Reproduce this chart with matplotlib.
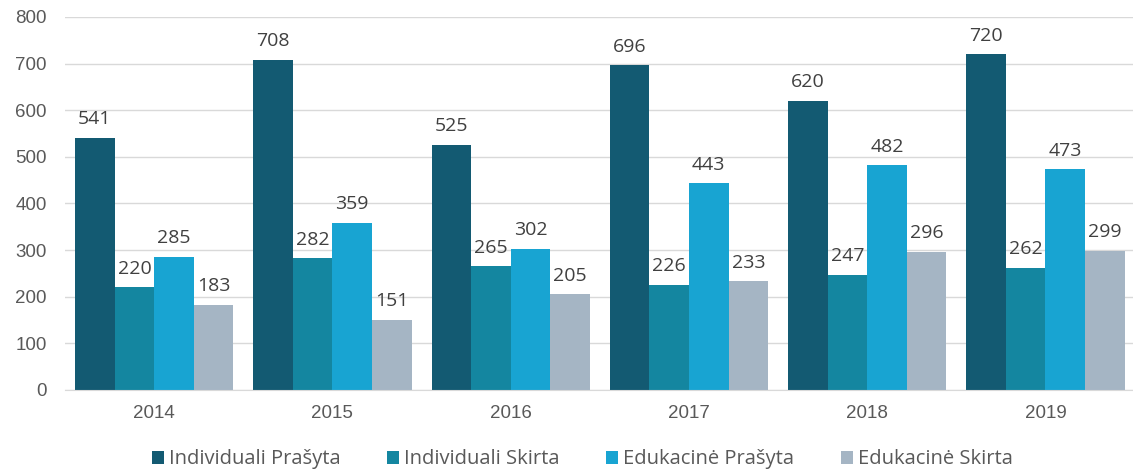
import matplotlib
matplotlib.use("Agg")
import matplotlib.pyplot as plt
import numpy as np

years = ["2014", "2015", "2016", "2017", "2018", "2019"]
series_names = ["Individuali Prašyta", "Individuali Skirta", "Edukacinė Prašyta", "Edukacinė Skirta"]
ind_prasyta = [541, 708, 525, 696, 620, 720]
ind_skirta = [220, 282, 265, 226, 247, 262]
edu_prasyta = [285, 359, 302, 443, 482, 473]
edu_skirta = [183, 151, 205, 233, 296, 299]

COLORS = ["#135A72", "#1486A0", "#18A4D2", "#A5B5C4"]
TEXT = "#595959"

fig = plt.figure(figsize=(11.33, 4.71), dpi=100)
ax = fig.add_axes([0.0574, 0.172, 0.944, 0.792])

x = np.arange(len(years))
width = 0.222
all_series = [ind_prasyta, ind_skirta, edu_prasyta, edu_skirta]
for i, (vals, name, col) in enumerate(zip(all_series, series_names, COLORS)):
    bars = ax.bar(x + (i - 1.5) * width, vals, width, color=col, label=name, zorder=2)
    for b in bars:
        h = b.get_height()
        ax.annotate(f"{h:.0f}", xy=(b.get_x() + b.get_width() / 2, h),
                    xytext=(0, 7), textcoords="offset points",
                    ha="center", va="bottom", fontsize=14, color="#404040",
                    family="Open Sans")

ax.set_xlim(-0.5, 5.5)
ax.set_ylim(0, 800)
ax.set_yticks(range(0, 801, 100))
ax.set_xticks(x)
ax.set_xticklabels(years)
ax.tick_params(axis="both", length=0, labelsize=13.5, labelcolor=TEXT)
ax.tick_params(axis="x", pad=11)
ax.tick_params(axis="y", pad=13)
for lab in ax.get_xticklabels() + ax.get_yticklabels():
    lab.set_family("Liberation Sans")
ax.grid(True, axis="y", color="#D9D9D9", linewidth=1, zorder=0)
ax.set_axisbelow(True)
for s in ["top", "right", "left"]:
    ax.spines[s].set_visible(False)
ax.spines["bottom"].set_color("#D9D9D9")

leg = fig.legend(loc="lower center", bbox_to_anchor=(0.514, -0.035), ncol=4, frameon=False,
                 handlelength=0.6, handleheight=0.6, handletextpad=0.25, columnspacing=2.3,
                 prop={"family": "Open Sans", "size": 14.5})
for t in leg.get_texts():
    t.set_color(TEXT)

plt.savefig("out.png", dpi=100)
plt.close()
